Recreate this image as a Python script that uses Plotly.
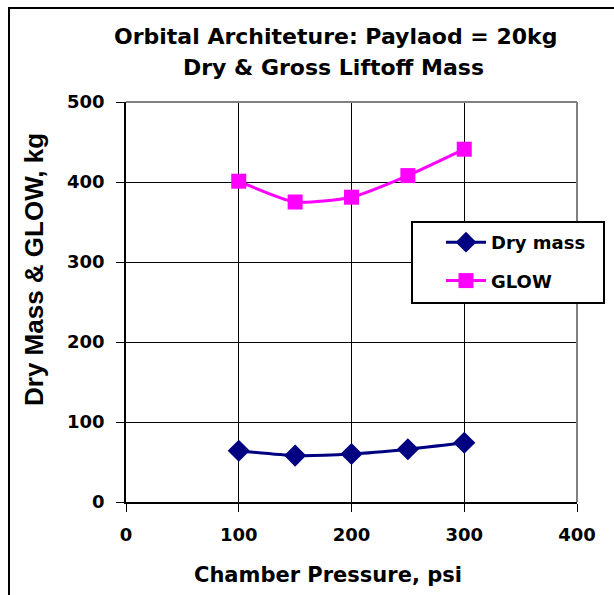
import plotly.graph_objects as go

pressure = [100, 150, 200, 250, 300]
dry_mass = [64, 58, 60, 66, 74]
glow = [401, 375, 381, 408, 441]

x_ticks = [0, 100, 200, 300, 400]
y_ticks = [0, 100, 200, 300, 400, 500]

FONT = "DejaVu Sans, Liberation Sans, Arial, sans-serif"
ARIAL = "Liberation Sans, Arial, sans-serif"

# plot area in pixels (for converting to paper coords)
L, R, T, B = 126, 577, 102, 502
def px(xp):
    return (xp - L) / (R - L)
def py(yp):
    return (B - yp) / (B - T)

fig = go.Figure()
fig.add_trace(go.Scatter(
    x=pressure, y=dry_mass, name="Dry mass", mode="lines+markers", legendgroup="a",
    line=dict(color="#000080", width=3, shape="spline", smoothing=0.6),
    marker=dict(symbol="diamond", size=17, color="#000080"),
))
fig.add_trace(go.Scatter(
    x=pressure, y=glow, name="GLOW", mode="lines+markers", legendgroup="b",
    line=dict(color="#FF00FF", width=3, shape="spline", smoothing=0.6),
    marker=dict(symbol="square", size=15, color="#FF00FF"),
))

fig.update_layout(
    width=614, height=595,
    margin=dict(l=L, r=614 - R, t=T, b=595 - B),
    paper_bgcolor="white", plot_bgcolor="white",
    font=dict(family=FONT, color="black"),
    legend=dict(
        x=px(441), y=py(224), xanchor="left", yanchor="top",
        borderwidth=0, bgcolor="rgba(0,0,0,0)",
        font=dict(size=18, family=FONT, weight="bold"),
        traceorder="grouped", tracegroupgap=12, itemwidth=40,
    ),
    xaxis=dict(
        range=[0, 400], tickvals=x_ticks, ticktext=[f"<b>{v}</b>" for v in x_ticks],
        showgrid=True, gridcolor="black", gridwidth=1,
        showline=True, linecolor="black", linewidth=1.5,
        ticks="outside", ticklen=8, tickcolor="black", ticklabelstandoff=8,
        tickfont=dict(size=18, family=FONT), zeroline=False,
    ),
    yaxis=dict(
        range=[0, 500], tickvals=y_ticks, ticktext=[f"<b>{v}</b>" for v in y_ticks],
        showgrid=True, gridcolor="black", gridwidth=1,
        showline=True, linecolor="black", linewidth=1.5,
        ticks="outside", ticklen=8, tickcolor="black", ticklabelstandoff=8,
        tickfont=dict(size=18, family=FONT), zeroline=False,
    ),
    showlegend=True,
)

# titles
fig.add_annotation(text="<b>Orbital Architeture: Paylaod = 20kg</b>", xref="paper", yref="paper",
                   x=px(335), y=py(37), xanchor="center", yanchor="middle", showarrow=False,
                   font=dict(size=22, family=FONT))
fig.add_annotation(text="<b>Dry & Gross Liftoff Mass</b>", xref="paper", yref="paper",
                   x=px(333), y=py(67), xanchor="center", yanchor="middle", showarrow=False,
                   font=dict(size=22, family=FONT))
fig.add_annotation(text="<b>Chamber Pressure, psi</b>", xref="paper", yref="paper",
                   x=px(328), y=py(575), xanchor="center", yanchor="middle", showarrow=False,
                   font=dict(size=21, family=FONT))
fig.add_annotation(text="<b>Dry Mass & GLOW, kg</b>", xref="paper", yref="paper",
                   x=px(34), y=py(270), xanchor="center", yanchor="middle", showarrow=False,
                   textangle=-90, font=dict(size=26, family=ARIAL))

# gray top/right plot frame
fig.add_shape(type="line", xref="paper", yref="paper", x0=0, x1=1, y0=1, y1=1,
              line=dict(color="#808080", width=2), layer="above")
fig.add_shape(type="line", xref="paper", yref="paper", x0=1, x1=1, y0=0, y1=1,
              line=dict(color="#808080", width=2), layer="above")
# legend box
fig.add_shape(type="rect", xref="paper", yref="paper",
              x0=px(412), x1=px(604), y0=py(303), y1=py(222),
              line=dict(color="black", width=2), fillcolor="white", layer="above")
# outer chart border (left/top visible)
fig.add_shape(type="rect", xref="paper", yref="paper",
              x0=px(9), x1=px(640), y0=py(620), y1=py(8),
              line=dict(color="black", width=2), layer="above")

fig.write_html("out.html")
